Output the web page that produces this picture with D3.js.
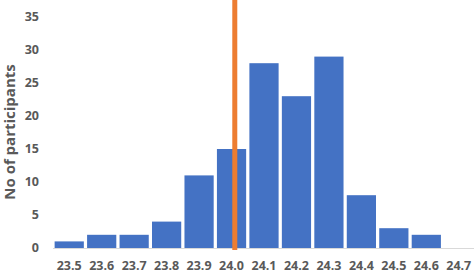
<!DOCTYPE html>
<html>
<head>
<meta charset="utf-8">
<script src="https://cdn.jsdelivr.net/npm/d3@7"></script>
<style>
  body { margin: 0; background: #fff; }
  text { font-family: "Open Sans", "Liberation Sans", sans-serif; font-weight: bold; fill: #595959; }
</style>
</head>
<body>
<div id="chart"></div>
<script>
var categories = ['23.5', '23.6', '23.7', '23.8', '23.9', '24.0', '24.1', '24.2', '24.3', '24.4', '24.5', '24.6', '24.7'];
var counts = [1, 2, 2, 4, 11, 15, 28, 23, 29, 8, 3, 2, 0];
var yTicks = [0, 5, 10, 15, 20, 25, 30, 35];
var referenceValue = 24.01;

var width = 474, height = 273,
    margin = { top: 17, right: 0, bottom: 25, left: 53 };

var svg = d3.select('#chart').append('svg')
    .attr('width', width)
    .attr('height', height);

var x = d3.scaleBand()
    .domain(categories)
    .range([margin.left, width + 1])
    .paddingInner(0.1)
    .paddingOuter(0.05);

var y = d3.scaleLinear()
    .domain([0, 35])
    .range([height - margin.bottom, margin.top]);

// numeric position of the reference line, mapped onto band centres
var first = +categories[0], last = +categories[categories.length - 1];
var xv = d3.scaleLinear()
    .domain([first, last])
    .range([x(categories[0]) + x.bandwidth() / 2, x(categories[categories.length - 1]) + x.bandwidth() / 2]);

// baseline
svg.append('line')
    .attr('x1', x.range()[0]).attr('x2', width)
    .attr('y1', y(0) + 0.5).attr('y2', y(0) + 0.5)
    .attr('stroke', '#d9d9d9').attr('stroke-width', 1);

svg.selectAll('rect.bar')
  .data(counts)
  .enter().append('rect')
    .attr('class', 'bar')
    .attr('x', function(d, i) { return x(categories[i]); })
    .attr('width', x.bandwidth())
    .attr('y', function(d) { return y(d); })
    .attr('height', function(d) { return y(0) - y(d); })
    .attr('fill', '#4472c4');

// reference line
svg.append('line')
    .attr('x1', xv(referenceValue)).attr('x2', xv(referenceValue))
    .attr('y1', 0).attr('y2', y(0) + 2)
    .attr('stroke', '#ed7d31').attr('stroke-width', 5);

// y axis labels
svg.selectAll('text.ytick')
  .data(yTicks)
  .enter().append('text')
    .attr('class', 'ytick')
    .attr('x', 39)
    .attr('y', function(d) { return y(d); })
    .attr('dy', '0.35em')
    .attr('text-anchor', 'end')
    .style('font-size', '12.5px')
    .text(function(d) { return d; });

// x axis labels
svg.selectAll('text.xtick')
  .data(categories)
  .enter().append('text')
    .attr('class', 'xtick')
    .attr('x', function(d) { return x(d) + x.bandwidth() / 2; })
    .attr('y', 270)
    .attr('text-anchor', 'middle')
    .style('font-size', '12.5px')
    .text(function(d) { return d; });

svg.append('text')
    .attr('transform', 'translate(15,' + 132 + ') rotate(-90)')
    .attr('text-anchor', 'middle')
    .style('font-size', '15px')
    .text('No of participants');
</script>
</body>
</html>
